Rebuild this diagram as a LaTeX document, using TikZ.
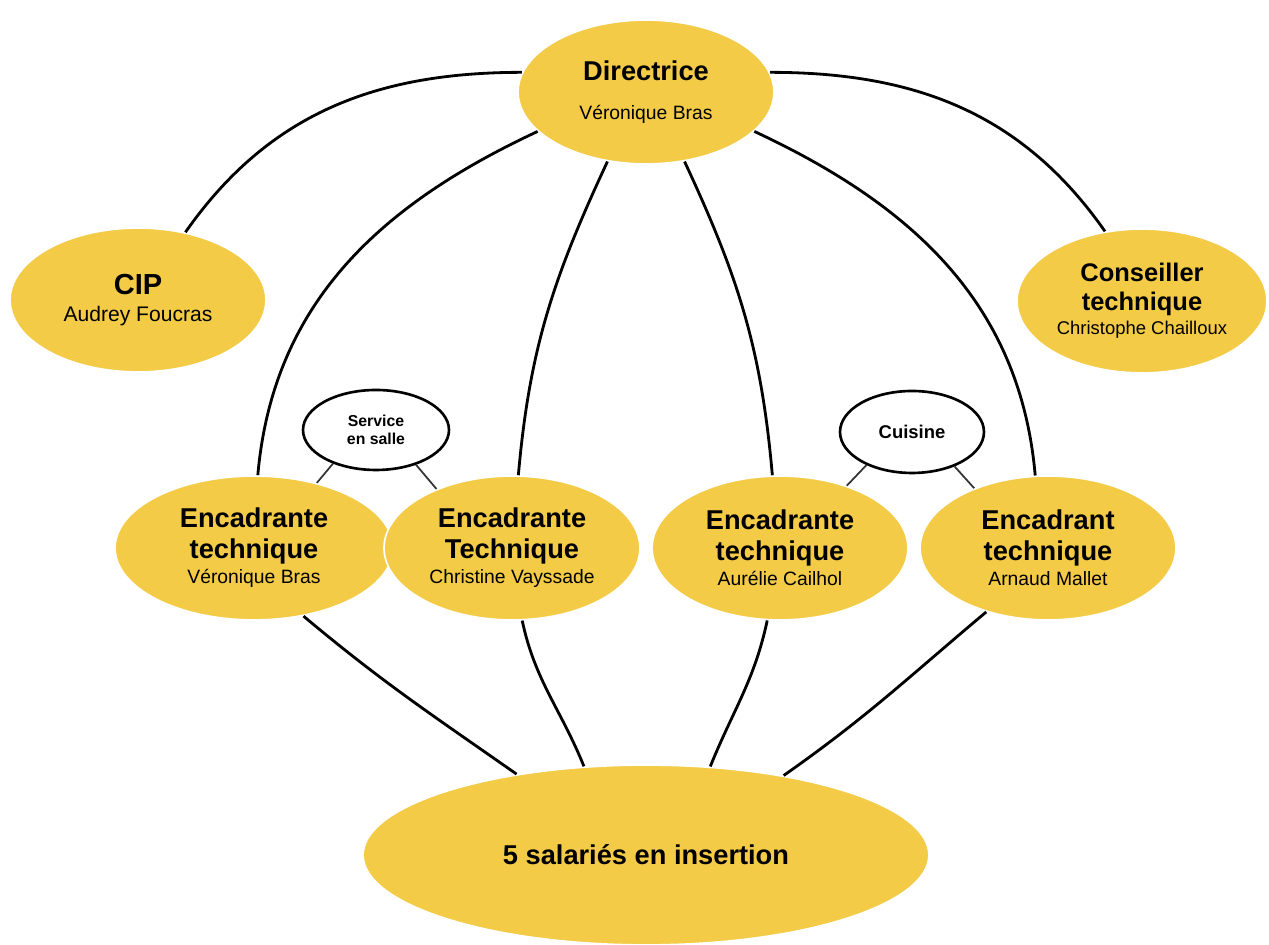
\documentclass[tikz,border=0pt]{standalone}
\usepackage{fontspec}
\setmainfont{Liberation Sans}
\usetikzlibrary{shapes.geometric}
\definecolor{jaune}{HTML}{F4CB47}
\newcommand{\rolefont}{\fontsize{15.5}{17.5}\selectfont\bfseries}
\newcommand{\namefont}{\fontsize{11}{13}\selectfont\mdseries}
\begin{document}
\begin{tikzpicture}[x=0.02cm, y=0.02cm, line width=1.6pt,
  main node/.style={ellipse,fill=jaune,draw=white,line width=1pt,minimum width=5.12cm,minimum height=2.88cm,inner sep=0pt,align=center,font=\rolefont},
  side node/.style={ellipse,fill=white,draw=black,line width=1.5pt,minimum width=2.92cm,minimum height=1.6cm,inner sep=0pt,align=center,font=\fontsize{9}{10}\selectfont\bfseries},
  link/.style={line width=1pt,draw=black!80}]
\useasboundingbox (0,0) rectangle (1269,945);
\begin{scope}
\node [main node](dir) at (646,853) {Directrice\\[5pt]\namefont Véronique Bras};
\node [main node,font=\fontsize{16.5}{18}\selectfont\bfseries](cip) at (138,645) {CIP\\[-3pt]\fontsize{12}{14}\selectfont\mdseries Audrey Foucras};
\node [main node,minimum width=5cm,font=\fontsize{14.5}{16.5}\selectfont\bfseries](cons) at (1142,644) {Conseiller\\technique\\[-3pt]\fontsize{10.5}{12}\selectfont\mdseries Christophe Chailloux};
\node [main node,minimum width=5.56cm](enc1) at (254,397) {Encadrante\\technique\\[-3pt]\namefont Véronique Bras};
\node [main node](enc2) at (512,397) {Encadrante\\Technique\\[-3pt]\namefont Christine Vayssade};
\node [main node](enc3) at (780,397) {Encadrante\\technique\\[-3pt]\namefont Aurélie Cailhol};
\node [main node](enc4) at (1048,397) {Encadrant\\technique\\[-3pt]\namefont Arnaud Mallet};
\node [main node,minimum width=11.32cm,minimum height=3.6cm](sal) at (646,90) {5 salariés en insertion};
\node [side node](serv) at (376,515) {Service\\en salle};
\node [side node,minimum width=2.88cm,minimum height=1.64cm,font=\fontsize{10.5}{12}\selectfont\bfseries](cuis) at (912,513) {Cuisine};
\end{scope}
\path 
    (dir.171) edge[out=180,in=55] (cip.55)
    (dir.9) edge[out=0,in=125] (cons.118)
    (dir.200) edge[out=205,in=85] (enc1.87)
    (dir.241) edge[out=245,in=85] (enc2.85)
    (dir.299) edge[out=295,in=95] (enc3.96)
    (dir.340) edge[out=335,in=95] (enc4.100)
    (enc1.306) edge[out=-40,in=145] (sal.148)
    (enc2.278) edge[out=-78,in=112] (sal.125)
    (enc3.260) edge[out=-102,in=68] (sal.54)
    (enc4.226) edge[out=220,in=35] (sal.30)
         ;
\path[link]
    (serv.218) edge (enc1.46)
    (serv.319) edge (enc2.142)
    (cuis.216) edge (enc3.43)
    (cuis.321) edge (enc4.141)
         ;
\end{tikzpicture}
\end{document}
